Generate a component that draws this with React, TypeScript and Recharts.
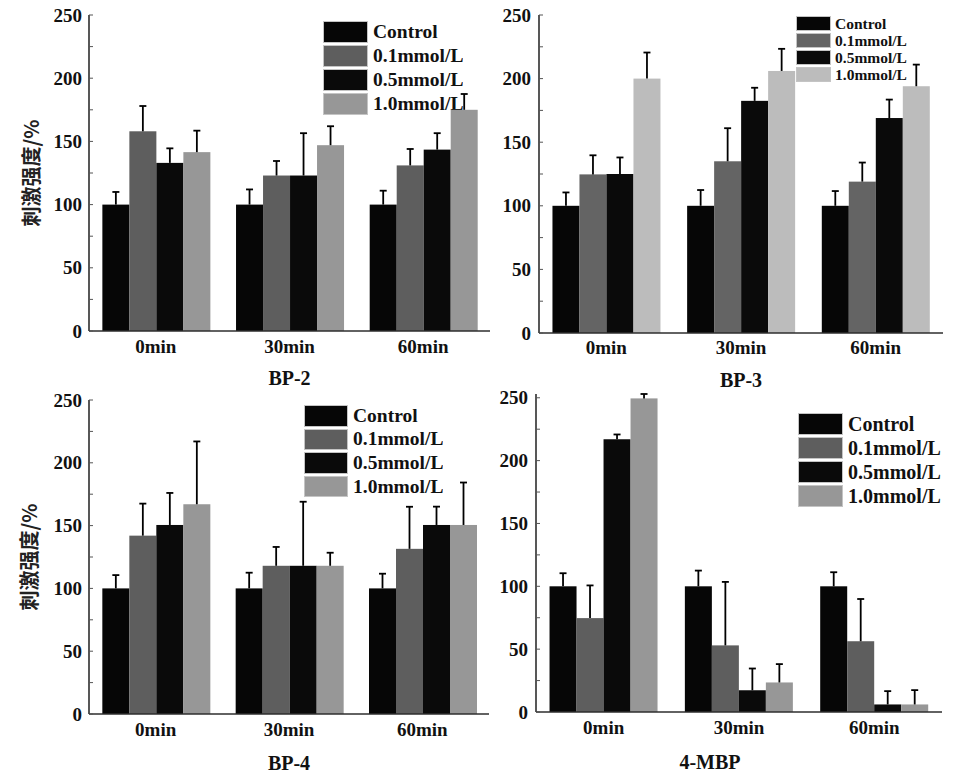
import React from "react";
import { BarChart, Bar, XAxis, YAxis, Label } from "recharts";

// ─── Data ─────────────────────────────────────────────────────────────────────

const groups = ["0min", "30min", "60min"];
const seriesNames = ["Control", "0.1mmol/L", "0.5mmol/L", "1.0mmol/L"];
const yTicks = [0, 25, 50, 75, 100, 125, 150, 175, 200, 225, 250];

// rows = time points, columns = Control / 0.1 / 0.5 / 1.0 mmol/L
const bp2Means = [
  [100, 158, 133, 141.5],
  [100, 123, 123, 147],
  [100, 131, 143.5, 175],
];
const bp2Errors = [
  [10, 20, 11.5, 17],
  [12, 11.5, 33.5, 15],
  [11, 13, 13, 12.5],
];

const bp3Means = [
  [100, 124.7, 125, 200],
  [100, 135, 182.5, 206],
  [100, 119, 169, 194],
];
const bp3Errors = [
  [10.5, 15, 13, 20.5],
  [12.4, 26, 10.3, 17.4],
  [11.6, 15, 14.5, 17],
];

const bp4Means = [
  [100, 142, 150.5, 167],
  [100, 118, 118, 118],
  [100, 131.5, 150.5, 150.5],
];
const bp4Errors = [
  [10.6, 25.5, 25.5, 50],
  [12.5, 15, 51, 10.4],
  [11.7, 33.5, 14.6, 33.8],
];

const mbpMeans = [
  [100, 74.7, 217, 249.5],
  [100, 53, 17.3, 23.5],
  [100, 56.3, 6, 6],
];
const mbpErrors = [
  [10.4, 26, 3.8, 3.5],
  [12.5, 50.5, 17.3, 14.6],
  [11.2, 33.6, 10.6, 11.4],
];

// ─── Helpers ──────────────────────────────────────────────────────────────────

const SERIF = "'Liberation Serif', 'Times New Roman', serif";
const CJK = "'Noto Sans CJK SC', 'Noto Sans', sans-serif";
const FRAME = "#2e2e2e";

function toRows(means: number[][], errors: number[][]) {
  return groups.map((g, i) => {
    const row: Record<string, string | number> = { group: g };
    seriesNames.forEach((_, j) => {
      row[`m${j}`] = means[i][j];
      row[`e${j}`] = errors[i][j];
    });
    return row;
  });
}

// bar rectangle plus a one-sided (upper) error whisker
function barWithError(idx: number, fill: string) {
  return (p: any) => {
    const { x, y, width, height, payload } = p;
    const mean = payload[`m${idx}`] as number;
    const pxPerUnit = mean ? height / mean : 0;
    const errPx = (payload[`e${idx}`] as number) * pxPerUnit;
    const cx = x + width / 2;
    return (
      <g>
        <rect x={x} y={y} width={width} height={height} fill={fill} />
        <line x1={cx} y1={y} x2={cx} y2={y - errPx} stroke="#000" strokeWidth={1.8} />
        <line x1={cx - 3.5} y1={y - errPx} x2={cx + 3.5} y2={y - errPx} stroke="#000" strokeWidth={1.8} />
      </g>
    );
  };
}

function YTick(props: any) {
  const { x, y, payload, margin } = props;
  const v = payload.value as number;
  const axisX = x + margin;
  return (
    <g>
      <line x1={axisX} y1={y} x2={axisX + 4} y2={y} stroke="#555" strokeWidth={1} />
      {v % 50 === 0 && (
        <text
          x={x}
          y={y}
          dy={6.5}
          textAnchor="end"
          fontFamily={SERIF}
          fontWeight="bold"
          fontSize={19}
          fill="#111"
        >
          {v}
        </text>
      )}
    </g>
  );
}

// ─── Panel ────────────────────────────────────────────────────────────────────

interface LegendBox {
  x: number;
  y: number;
  swatchW: number;
  rowH: number;
  fontSize: number;
  textX: number;
  clipRight?: number;
}

interface PanelProps {
  means: number[][];
  errors: number[][];
  title: string;
  left: number;
  top: number;
  width: number;
  height: number;
  margin: { top: number; right: number; left: number; bottom: number };
  yAxisWidth: number;
  xAxisHeight: number;
  yMax: number;
  xTickMargin: number;
  yTickMargin: number;
  titleOffset: number;
  titleDx?: number;
  yLabelOffset?: number;
  colors: string[];
  legend: LegendBox;
}

function Legend({ legend, colors }: { legend: LegendBox; colors: string[] }) {
  const w = legend.clipRight ? legend.clipRight - legend.x : undefined;
  return (
    <div
      style={{
        position: "absolute",
        left: legend.x,
        top: legend.y,
        width: w,
        overflow: "hidden",
        fontFamily: SERIF,
        fontWeight: "bold",
        fontSize: legend.fontSize,
        color: "#111",
      }}
    >
      {seriesNames.map((name, i) => (
        <div
          key={name}
          style={{ display: "flex", alignItems: "center", height: legend.rowH, whiteSpace: "nowrap" }}
        >
          <div
            style={{
              width: legend.swatchW,
              height: legend.rowH - 2,
              background: colors[i],
              boxSizing: "border-box",
              border: "1px solid #c4c4c4",
              flexShrink: 0,
            }}
          />
          <span style={{ marginLeft: legend.textX - legend.x - legend.swatchW }}>{name}</span>
        </div>
      ))}
    </div>
  );
}

function Panel(p: PanelProps) {
  const rows = toRows(p.means, p.errors);
  return (
    <>
      <Legend legend={p.legend} colors={p.colors} />
      <div style={{ position: "absolute", left: p.left, top: p.top }}>
        <BarChart
          width={p.width}
          height={p.height}
          data={rows}
          margin={p.margin}
          barCategoryGap="10%"
          barGap={0}
        >
          <XAxis
            dataKey="group"
            height={p.xAxisHeight}
            tickLine={false}
            tickSize={0}
            tickMargin={p.xTickMargin}
            axisLine={{ stroke: FRAME, strokeWidth: 1.6 }}
            tick={{ fontFamily: SERIF, fontWeight: "bold", fontSize: 19, fill: "#111" }}
          >
            <Label
              value={p.title}
              position="insideBottom"
              offset={p.titleOffset}
              dx={p.titleDx ?? 0}
              style={{ fontFamily: SERIF, fontWeight: "bold", fontSize: 20, fill: "#111" }}
            />
          </XAxis>
          <XAxis
            xAxisId="top"
            dataKey="group"
            orientation="top"
            height={0}
            tick={false}
            tickLine={false}
            axisLine={{ stroke: FRAME, strokeWidth: 1.6 }}
          />
          <YAxis
            width={p.yAxisWidth}
            domain={[0, p.yMax]}
            ticks={yTicks}
            interval={0}
            tickLine={false}
            tickSize={0}
            tickMargin={p.yTickMargin}
            axisLine={{ stroke: FRAME, strokeWidth: 1.6 }}
            tick={<YTick margin={p.yTickMargin} />}
          >
            {p.yLabelOffset !== undefined && (
              <Label
                value="刺激强度/%"
                angle={-90}
                position="insideLeft"
                offset={p.yLabelOffset}
                style={{ textAnchor: "middle", fontFamily: CJK, fontWeight: "bold", fontSize: 20, fill: "#222" }}
              />
            )}
          </YAxis>
          <YAxis
            yAxisId="right"
            orientation="right"
            width={0}
            domain={[0, p.yMax]}
            tick={false}
            tickLine={false}
            axisLine={{ stroke: FRAME, strokeWidth: 1.6 }}
          />
          {seriesNames.map((name, i) => (
            <Bar
              key={name}
              dataKey={`m${i}`}
              name={name}
              fill={p.colors[i]}
              isAnimationActive={false}
              shape={barWithError(i, p.colors[i])}
            />
          ))}
        </BarChart>
      </div>
    </>
  );
}

// ─── Page ─────────────────────────────────────────────────────────────────────

const greys = ["#060606", "#5e5e5e", "#0a0a0a", "#979797"];
const greysLight = ["#060606", "#646464", "#0a0a0a", "#bcbcbc"];

export default function App() {
  return (
    <div
      style={{
        position: "absolute",
        left: 0,
        top: 0,
        width: 960,
        height: 780,
        background: "#fff",
        overflow: "hidden",
      }}
    >
      <Panel
        means={bp2Means}
        errors={bp2Errors}
        title="BP-2"
        left={0}
        top={0}
        width={500}
        height={390}
        margin={{ top: 15, right: 10, left: 0, bottom: 0 }}
        yAxisWidth={89}
        xAxisHeight={59}
        yMax={250}
        xTickMargin={9}
        yTickMargin={7}
        titleOffset={5}
        yLabelOffset={32}
        colors={greys}
        legend={{ x: 323, y: 20, swatchW: 45, rowH: 24, fontSize: 19.5, textX: 373 }}
      />
      <Panel
        means={bp3Means}
        errors={bp3Errors}
        title="BP-3"
        left={480}
        top={0}
        width={480}
        height={390}
        margin={{ top: 15, right: 17, left: 0, bottom: 0 }}
        yAxisWidth={59}
        xAxisHeight={57}
        yMax={250}
        xTickMargin={8}
        yTickMargin={8}
        titleOffset={3.5}
        colors={greysLight}
        legend={{ x: 796, y: 15, swatchW: 35, rowH: 17, fontSize: 15.5, textX: 835 }}
      />
      <Panel
        means={bp4Means}
        errors={bp4Errors}
        title="BP-4"
        left={0}
        top={385}
        width={500}
        height={395}
        margin={{ top: 15, right: 11, left: 0, bottom: 0 }}
        yAxisWidth={89}
        xAxisHeight={66}
        yMax={250}
        xTickMargin={9}
        yTickMargin={7}
        titleOffset={10}
        yLabelOffset={30}
        colors={greys}
        legend={{ x: 304, y: 404, swatchW: 44, rowH: 23.6, fontSize: 19.5, textX: 353 }}
      />
      <Panel
        means={mbpMeans}
        errors={mbpErrors}
        title="4-MBP"
        left={480}
        top={385}
        width={480}
        height={395}
        margin={{ top: 9, right: 18, left: 0, bottom: 0 }}
        yAxisWidth={56}
        xAxisHeight={68}
        yMax={253}
        xTickMargin={9}
        yTickMargin={8}
        titleOffset={11.5}
        titleDx={-29}
        colors={greys}
        legend={{ x: 798, y: 412, swatchW: 45, rowH: 24, fontSize: 20, textX: 848, clipRight: 942 }}
      />
    </div>
  );
}
